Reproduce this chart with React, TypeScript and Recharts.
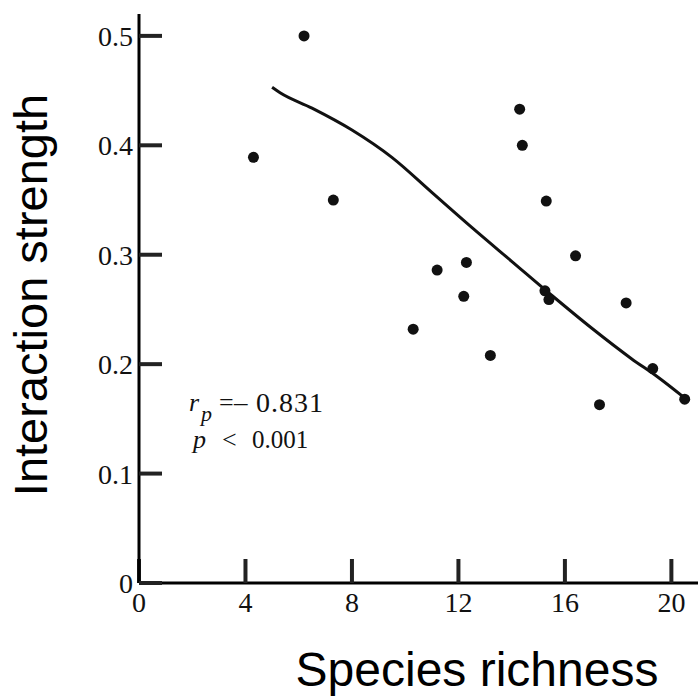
import { ComposedChart, Line, Scatter, XAxis, YAxis } from "recharts";

const xTicks = [0, 4, 8, 12, 16, 20];
const yTicks = [0, 0.1, 0.2, 0.3, 0.4, 0.5];

// observed sites
const richness = [6.2, 4.3, 7.3, 14.3, 14.4, 15.3, 16.4, 12.3, 11.2, 12.2, 15.25, 15.4, 18.3, 10.3, 13.2, 19.3, 17.3, 20.5];
const strength = [0.5, 0.389, 0.35, 0.433, 0.4, 0.349, 0.299, 0.293, 0.286, 0.262, 0.267, 0.259, 0.256, 0.232, 0.208, 0.196, 0.163, 0.168];

// smoothed trend
const curveX = [5.0, 5.3, 6.5, 8.0, 9.5, 11.0, 12.5, 14.0, 15.5, 17.0, 18.5, 19.5, 20.45];
const curveY = [0.453, 0.448, 0.434, 0.414, 0.389, 0.357, 0.325, 0.294, 0.263, 0.233, 0.205, 0.188, 0.17];

const points = richness.map((x, i) => ({ x, y: strength[i] }));
const curve = curveX.map((x, i) => ({ x, y: curveY[i] }));

const serif = "'Liberation Serif', 'DejaVu Serif', serif";
const sans = "'Liberation Sans', Arial, sans-serif";

const fmt = (v: number) => (v === 0 ? "0" : v.toFixed(1));

const tickFont = { fontFamily: serif, fontSize: 28, fill: "#111" };

const Dot = (props: any) => <circle cx={props.cx} cy={props.cy} r={5.5} fill="#111" />;

export default function App() {
  return (
    <div
      style={{
        position: "absolute",
        left: 0,
        top: 0,
        width: 699,
        height: 697,
        background: "#fff",
      }}
    >
      <ComposedChart
        width={699}
        height={697}
        margin={{ top: 14, right: 1, bottom: 74, left: 79 }}
      >
        {/* negative tickSize draws the tick marks inward, tickMargin pushes labels back out */}
        <XAxis
          type="number"
          dataKey="x"
          domain={[0, 21]}
          ticks={xTicks}
          interval={0}
          height={40}
          axisLine={{ stroke: "#000", strokeWidth: 3 }}
          tickLine={{ stroke: "#222", strokeWidth: 4 }}
          tickSize={-24}
          tickMargin={33}
          tick={tickFont}
        />
        <YAxis
          type="number"
          domain={[0, 0.52]}
          ticks={yTicks}
          interval={0}
          width={60}
          axisLine={{ stroke: "#000", strokeWidth: 3 }}
          tickLine={{ stroke: "#222", strokeWidth: 4 }}
          tickSize={-23}
          tickMargin={29}
          tick={tickFont}
          tickFormatter={fmt}
        />
        <Line
          data={curve}
          dataKey="y"
          type="monotone"
          stroke="#111"
          strokeWidth={3}
          dot={false}
          activeDot={false}
          isAnimationActive={false}
        />
        <Scatter
          data={points}
          dataKey="y"
          fill="#111"
          shape={<Dot />}
          isAnimationActive={false}
        />
      </ComposedChart>

      <svg
        width={699}
        height={697}
        style={{ position: "absolute", left: 0, top: 0, pointerEvents: "none" }}
      >
        <g fontFamily={serif} fill="#111">
          <text x={189} y={411} fontSize={26} fontStyle="italic">r</text>
          <text x={201} y={421} fontSize={22} fontStyle="italic">p</text>
          <text x={219} y={411} fontSize={26}>=</text>
          <text x={234} y={411} fontSize={27}>–</text>
          <text x={256} y={412} fontSize={28} letterSpacing={1}>0.831</text>
          <text x={193} y={448} fontSize={26} fontStyle="italic">p</text>
          <text x={222} y={448} fontSize={26}>&lt;</text>
          <text x={252} y={448} fontSize={25}>0.001</text>
        </g>
      </svg>

      <div
        style={{
          position: "absolute",
          left: 30,
          top: 295,
          transform: "translate(-50%, -50%) rotate(-90deg)",
          fontFamily: sans,
          fontSize: 47,
          lineHeight: 1,
          whiteSpace: "nowrap",
          color: "#000",
        }}
      >
        Interaction strength
      </div>

      <div
        style={{
          position: "absolute",
          left: 477,
          top: 670,
          transform: "translate(-50%, -50%)",
          fontFamily: sans,
          fontSize: 48,
          lineHeight: 1,
          whiteSpace: "nowrap",
          color: "#000",
        }}
      >
        Species richness
      </div>
    </div>
  );
}
